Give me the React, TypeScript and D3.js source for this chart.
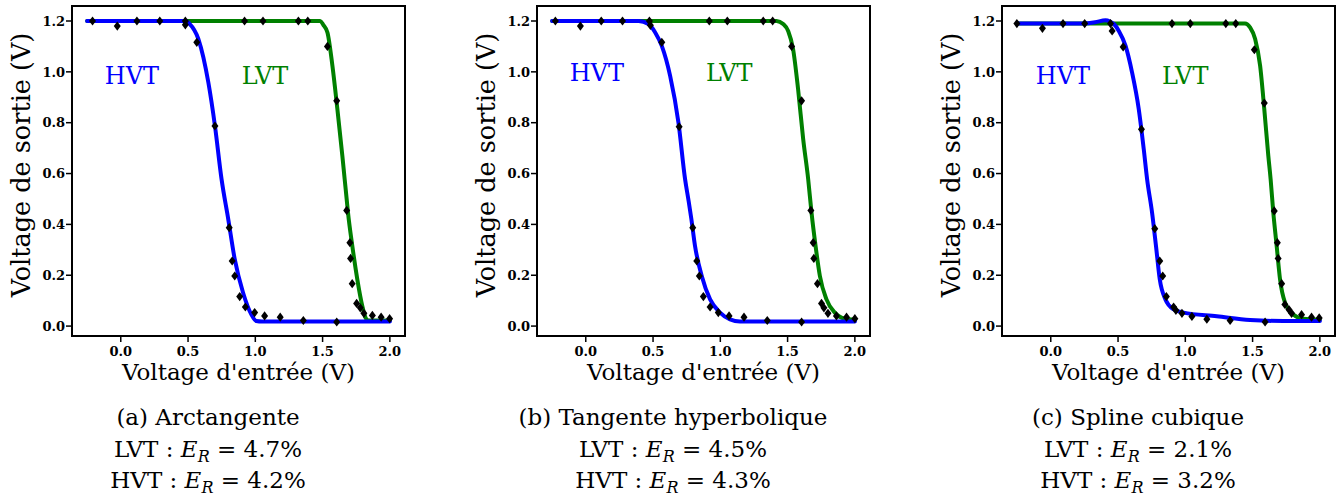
import React from 'react';
import * as d3 from 'd3';

type P = [number, number];

// ---- axis ticks / texts ----
const xTicks = [0.0, 0.5, 1.0, 1.5, 2.0];
const yTicks = [0.0, 0.2, 0.4, 0.6, 0.8, 1.0, 1.2];
const xLabel = "Voltage d'entrée (V)";
const yLabel = 'Voltage de sortie (V)';
const panelTitles = ['(a) Arctangente', '(b) Tangente hyperbolique', '(c) Spline cubique'];
const lvtErrors = ['4.7', '4.5', '2.1'];
const hvtErrors = ['4.2', '4.3', '3.2'];
const seriesNames = ['HVT', 'LVT'];

// ---- panel (a) Arctangente ----
const hvtPointsA: P[] = [[-0.21, 1.2], [-0.026, 1.18], [0.12, 1.2], [0.29, 1.2], [0.48, 1.2], [0.48, 1.185], [0.565, 1.116], [0.70, 0.787], [0.806, 0.387], [0.828, 0.256], [0.847, 0.197], [0.884, 0.116], [0.926, 0.075], [0.995, 0.053], [1.069, 0.04], [1.185, 0.035], [1.357, 0.022], [1.605, 0.016]];
const lvtPointsA: P[] = [[0.92, 1.2], [1.057, 1.2], [1.32, 1.2], [1.39, 1.2], [1.536, 1.10], [1.605, 0.886], [1.679, 0.455], [1.703, 0.328], [1.708, 0.266], [1.72, 0.167], [1.753, 0.089], [1.78, 0.072], [1.807, 0.05], [1.87, 0.042], [1.935, 0.035], [1.998, 0.029]];
const hvtCurveA: P[] = [[-0.25, 1.2], [0.485, 1.2], [0.51, 1.19], [0.577, 1.129], [0.651, 0.958], [0.70, 0.787], [0.749, 0.578], [0.799, 0.42], [0.847, 0.263], [0.909, 0.131], [0.97, 0.046], [1.007, 0.02], [1.05, 0.018], [2.0, 0.018]];
const lvtCurveA: P[] = [[-0.25, 1.2], [1.482, 1.2], [1.505, 1.185], [1.536, 1.155], [1.573, 1.024], [1.61, 0.853], [1.647, 0.669], [1.664, 0.578], [1.679, 0.499], [1.689, 0.446], [1.721, 0.315], [1.758, 0.184], [1.795, 0.079], [1.819, 0.033], [1.84, 0.022], [2.0, 0.022]];

// ---- panel (b) Tangente hyperbolique ----
const hvtPointsB: P[] = [[-0.226, 1.2], [-0.04, 1.18], [0.115, 1.2], [0.273, 1.2], [0.473, 1.2], [0.48, 1.183], [0.565, 1.116], [0.694, 0.784], [0.795, 0.387], [0.825, 0.256], [0.844, 0.197], [0.874, 0.116], [0.924, 0.075], [0.985, 0.053], [1.065, 0.04], [1.176, 0.035], [1.349, 0.022], [1.604, 0.016]];
const lvtPointsB: P[] = [[0.918, 1.2], [1.052, 1.2], [1.319, 1.2], [1.389, 1.2], [1.53, 1.10], [1.604, 0.886], [1.673, 0.455], [1.69, 0.328], [1.695, 0.266], [1.722, 0.167], [1.752, 0.089], [1.77, 0.072], [1.8, 0.05], [1.863, 0.04], [1.938, 0.035], [2.0, 0.029]];
const hvtCurveB: P[] = [[-0.25, 1.2], [0.392, 1.2], [0.466, 1.188], [0.516, 1.155], [0.565, 1.102], [0.627, 0.984], [0.689, 0.80], [0.738, 0.578], [0.765, 0.49], [0.785, 0.42], [0.812, 0.315], [0.862, 0.197], [0.924, 0.105], [0.998, 0.053], [1.072, 0.026], [1.146, 0.018], [2.0, 0.018]];
const lvtCurveB: P[] = [[-0.25, 1.2], [1.418, 1.2], [1.467, 1.188], [1.505, 1.16], [1.541, 1.089], [1.578, 0.932], [1.616, 0.735], [1.653, 0.578], [1.678, 0.446], [1.708, 0.315], [1.74, 0.197], [1.789, 0.105], [1.851, 0.053], [1.925, 0.029], [2.0, 0.025]];

// ---- panel (c) Spline cubique ----
const hvtPointsC: P[] = [[-0.252, 1.19], [-0.062, 1.171], [0.091, 1.19], [0.252, 1.19], [0.444, 1.19], [0.456, 1.161], [0.538, 1.098], [0.674, 0.774], [0.773, 0.383], [0.81, 0.256], [0.832, 0.197], [0.859, 0.116], [0.913, 0.075], [0.93, 0.062], [0.975, 0.05], [1.049, 0.038], [1.16, 0.027], [1.333, 0.022], [1.593, 0.016]];
const lvtPointsC: P[] = [[0.901, 1.19], [1.037, 1.19], [1.301, 1.19], [1.375, 1.19], [1.513, 1.087], [1.587, 0.877], [1.661, 0.453], [1.684, 0.328], [1.69, 0.266], [1.716, 0.167], [1.74, 0.085], [1.77, 0.065], [1.79, 0.05], [1.864, 0.045], [1.938, 0.035], [1.995, 0.032]];
const hvtCurveC: P[] = [[-0.25, 1.19], [0.25, 1.19], [0.33, 1.195], [0.407, 1.203], [0.44, 1.198], [0.469, 1.188], [0.506, 1.161], [0.556, 1.102], [0.604, 0.998], [0.654, 0.853], [0.691, 0.696], [0.716, 0.578], [0.753, 0.446], [0.782, 0.315], [0.81, 0.184], [0.852, 0.105], [0.913, 0.066], [0.987, 0.053], [1.234, 0.039], [1.481, 0.024], [1.728, 0.02], [2.0, 0.02]];
const lvtCurveC: P[] = [[-0.25, 1.19], [1.444, 1.19], [1.481, 1.175], [1.519, 1.129], [1.556, 1.024], [1.587, 0.853], [1.617, 0.669], [1.634, 0.578], [1.654, 0.446], [1.679, 0.315], [1.704, 0.184], [1.741, 0.092], [1.802, 0.046], [1.876, 0.029], [2.0, 0.025]];

const panels = [
  { hvtPts: hvtPointsA, lvtPts: lvtPointsA, hvtCurve: hvtCurveA, lvtCurve: lvtCurveA },
  { hvtPts: hvtPointsB, lvtPts: lvtPointsB, hvtCurve: hvtCurveB, lvtCurve: lvtCurveB },
  { hvtPts: hvtPointsC, lvtPts: lvtPointsC, hvtCurve: hvtCurveC, lvtCurve: lvtCurveC },
];

// label anchor positions (data coords), layout only
const labelPos = [
  { hvt: [-0.119, 0.951], lvt: [0.9, 0.951] },
  { hvt: [-0.12, 0.965], lvt: [0.894, 0.965] },
  { hvt: [-0.111, 0.952], lvt: [0.827, 0.952] },
];

const W = 1343;
const H = 498;
const PANEL_DX = 465;
const FONT = "'DejaVu Serif', serif";
const BLUE = '#0000ff';
const GREEN = '#008000';

const diamond = (cx: number, cy: number) => {
  const hw = 3.5, hh = 4.6;
  return `M${cx},${cy - hh}L${cx + hw},${cy}L${cx},${cy + hh}L${cx - hw},${cy}Z`;
};

function Panel({ idx }: { idx: number }) {
  const ox = idx * PANEL_DX;
  const left = 72 + ox, right = 405 + ox, top = 6, bottom = 336;
  const x = d3.scaleLinear().domain([-0.3625, 2.1125]).range([left, right]);
  const y = d3.scaleLinear().domain([-0.039, 1.259]).range([bottom, top]);
  const line = d3.line<P>().x(d => x(d[0])).y(d => y(d[1])).curve(d3.curveMonotoneX);
  const p = panels[idx];
  const lp = labelPos[idx];
  const cx = 208 + ox;
  const fmt = d3.format('.1f');
  return (
    <g>
      <defs>
        <clipPath id={`clip${idx}`}>
          <rect x={left} y={top} width={right - left} height={bottom - top} />
        </clipPath>
      </defs>
      <g clipPath={`url(#clip${idx})`}>
        <path d={line(p.lvtCurve) || ''} fill="none" stroke={GREEN} strokeWidth={4} strokeLinejoin="round" strokeLinecap="round" />
        <path d={line(p.hvtCurve) || ''} fill="none" stroke={BLUE} strokeWidth={4} strokeLinejoin="round" strokeLinecap="round" />
        {[...p.hvtPts, ...p.lvtPts].map((d, k) => (
          <path key={k} d={diamond(x(d[0]), y(d[1]))} fill="#000" />
        ))}
      </g>
      <rect x={left} y={top} width={right - left} height={bottom - top} fill="none" stroke="#000" strokeWidth={2} />
      {xTicks.map(t => (
        <g key={'x' + t}>
          <line x1={x(t)} x2={x(t)} y1={bottom} y2={bottom + 6} stroke="#000" strokeWidth={1.5} />
          <text x={x(t)} y={356} textAnchor="middle" fontFamily={FONT} fontWeight="bold" fontSize={13}>{fmt(t)}</text>
        </g>
      ))}
      {yTicks.map(t => (
        <g key={'y' + t}>
          <line x1={left - 6} x2={left} y1={y(t)} y2={y(t)} stroke="#000" strokeWidth={1.5} />
          <text x={left - 7} y={y(t)} dy="0.36em" textAnchor="end" fontFamily={FONT} fontWeight="bold" fontSize={13}>{fmt(t)}</text>
        </g>
      ))}
      <text x={x(lp.hvt[0])} y={y(lp.hvt[1])} fill={BLUE} fontFamily={FONT} fontSize={24}>{seriesNames[0]}</text>
      <text x={x(lp.lvt[0])} y={y(lp.lvt[1])} fill={GREEN} fontFamily={FONT} fontSize={24}>{seriesNames[1]}</text>
      <text x={(left + right) / 2} y={380} textAnchor="middle" fontFamily={FONT} fontSize={23}>{xLabel}</text>
      <text transform={`translate(${30 + ox},${165}) rotate(-90)`} textAnchor="middle" fontFamily={FONT} fontSize={25.5}>{yLabel}</text>
      <text x={cx} y={425} textAnchor="middle" fontFamily={FONT} fontSize={23}>{panelTitles[idx]}</text>
      <text x={cx} y={456.7} textAnchor="middle" fontFamily={FONT} fontSize={23}>
        {'LVT : '}<tspan fontStyle="italic">E</tspan><tspan fontStyle="italic" fontSize={16} dy={5}>R</tspan><tspan dy={-5}>{' = ' + lvtErrors[idx] + '%'}</tspan>
      </text>
      <text x={cx} y={488.3} textAnchor="middle" fontFamily={FONT} fontSize={23}>
        {'HVT : '}<tspan fontStyle="italic">E</tspan><tspan fontStyle="italic" fontSize={16} dy={5}>R</tspan><tspan dy={-5}>{' = ' + hvtErrors[idx] + '%'}</tspan>
      </text>
    </g>
  );
}

export default function App() {
  return (
    <svg width={W} height={H} style={{ position: 'absolute', left: 0, top: 0, background: '#fff' }}>
      <rect x={0} y={0} width={W} height={H} fill="#fff" />
      {[0, 1, 2].map(i => <Panel key={i} idx={i} />)}
    </svg>
  );
}
